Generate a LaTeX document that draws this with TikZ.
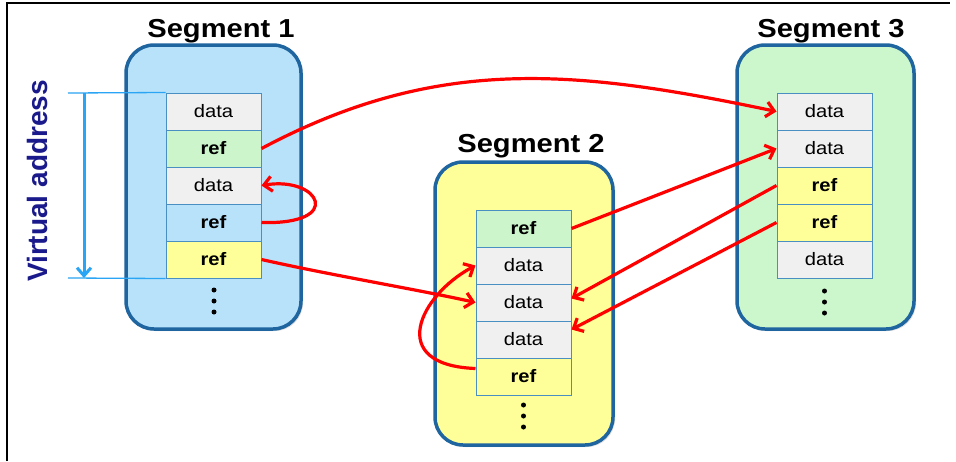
\documentclass[tikz,border=0pt]{standalone}
\usepackage{fontspec}
\setmainfont{Liberation Sans}[FakeStretch=1.12]
\newfontfamily\vafont{Liberation Sans}
\usetikzlibrary{arrows.meta,shadows}
\definecolor{segborder}{HTML}{1F65A0}
\definecolor{segoneblue}{HTML}{B8E2FA}
\definecolor{segtwoyellow}{HTML}{FFFF99}
\definecolor{segthreegreen}{HTML}{CCF7CC}
\definecolor{cellline}{HTML}{4A8FC2}
\definecolor{datagray}{HTML}{F0F0F0}
\definecolor{refgreen}{HTML}{CCF5CC}
\definecolor{refblue}{HTML}{B8E2FA}
\definecolor{refyellow}{HTML}{FFFF99}
\definecolor{vablue}{HTML}{2AA4F4}
\definecolor{vatext}{HTML}{1A1A8C}
\definecolor{arrred}{HTML}{FF0000}
\begin{document}
\begin{tikzpicture}[x=1pt,y=-1pt,
  segbox/.style={draw=segborder, line width=3.5pt, rounded corners=28pt,
    drop shadow={opacity=0.25, shadow xshift=2pt, shadow yshift=-2pt}},
  segtitle/.style={font=\fontsize{26}{30}\selectfont\bfseries, anchor=base},
  cell/.style={draw=cellline, line width=1pt, minimum width=95pt, minimum height=37pt,
    inner sep=0pt, font=\fontsize{18}{20}\selectfont},
  dcell/.style={cell, fill=datagray},
  rgreen/.style={cell, fill=refgreen, font=\fontsize{18}{20}\selectfont\bfseries},
  rblue/.style={cell, fill=refblue, font=\fontsize{18}{20}\selectfont\bfseries},
  ryellow/.style={cell, fill=refyellow, font=\fontsize{18}{20}\selectfont\bfseries},
  dotmark/.style={circle, fill=black, inner sep=0pt, minimum size=5pt},
  redarr/.style={draw=arrred, line width=3.2pt, -{Straight Barb[length=8pt,width=15pt]}}
]
\useasboundingbox (0,0) rectangle (956,461);
\fill[white] (0,0) rectangle (956,461);
\draw[line width=1.5pt] (7,461) -- (7,3) -- (950,3);

% segment boxes
\node[segbox, fill=segoneblue, minimum width=175pt, minimum height=284pt] (s1) at (213.5,187) {};
\node[segbox, fill=segtwoyellow, minimum width=178pt, minimum height=283pt] (s2) at (524,303.5) {};
\node[segbox, fill=segthreegreen, minimum width=177pt, minimum height=284pt] (s3) at (825.5,187) {};

% titles
\node[segtitle] (t1) at (221,37) {Segment 1};
\node[segtitle] (t2) at (531,152) {Segment 2};
\node[segtitle] (t3) at (831,37) {Segment 3};

% segment 1 cells
\node[dcell]   (a1) at (213.5,111.5) {data};
\node[rgreen]  (a2) at (213.5,148.5) {ref};
\node[dcell]   (a3) at (213.5,185.5) {data};
\node[rblue]   (a4) at (213.5,222.5) {ref};
\node[ryellow] (a5) at (213.5,259.5) {ref};
\node[dotmark] (ad1) at (214,290) {};
\node[dotmark] (ad2) at (214,301) {};
\node[dotmark] (ad3) at (214,312) {};

% segment 2 cells
\node[rgreen]  (b1) at (523.5,228.5) {ref};
\node[dcell]   (b2) at (523.5,265.5) {data};
\node[dcell]   (b3) at (523.5,302.5) {data};
\node[dcell]   (b4) at (523.5,339.5) {data};
\node[ryellow] (b5) at (523.5,376.5) {ref};
\node[dotmark] (bd1) at (523.5,405) {};
\node[dotmark] (bd2) at (523.5,416) {};
\node[dotmark] (bd3) at (523.5,427) {};

% segment 3 cells
\node[dcell]   (c1) at (824.5,111.5) {data};
\node[dcell]   (c2) at (824.5,148.5) {data};
\node[ryellow] (c3) at (824.5,185.5) {ref};
\node[ryellow] (c4) at (824.5,222.5) {ref};
\node[dcell]   (c5) at (824.5,259.5) {data};
\node[dotmark] (cd1) at (824.5,291) {};
\node[dotmark] (cd2) at (824.5,302) {};
\node[dotmark] (cd3) at (824.5,313) {};

% virtual address
\node[font=\vafont\fontsize{28}{32}\selectfont\bfseries, text=vatext, rotate=90, anchor=base] (va) at (47,181) {Virtual address};
\coordinate (vtl) at (68,93);
\coordinate (vbl) at (68,278);
\coordinate (vtop) at (84,93);
\coordinate (vbot) at (84,278);
\draw[vablue, line width=1.3pt] (vtl) -- (a1.north west);
\draw[vablue, line width=1.3pt] (vbl) -- (a5.south west);
\draw[vablue, line width=3pt, -{Straight Barb[length=8pt,width=14pt]}] (vtop) -- (vbot);

% red arrows
\draw[redarr] (a2.east) .. controls (439,54) and (578,70) .. (c1.west);
\draw[redarr] (a4.east) .. controls (345,225) and (320,176) .. (a3.east);
\draw[redarr] (a5.east) .. controls (330,275) and (420,290) .. (b3.west);
\draw[redarr] (b1.east) -- (c2.west);
\draw[redarr] (c3.west) -- ([yshift=4pt]b3.east);
\draw[redarr] (c4.west) -- ([yshift=10pt]b4.east);
\draw[redarr] ([yshift=8pt]b5.west) .. controls (385,365) and (420,295) .. (b2.west);
\end{tikzpicture}
\end{document}
